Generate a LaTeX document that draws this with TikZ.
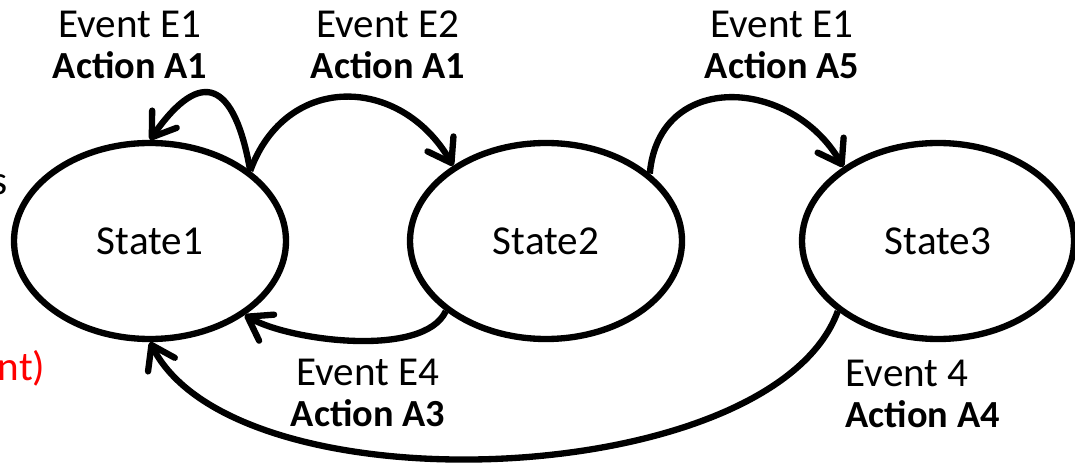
\documentclass[tikz,border=0pt]{standalone}
\usepackage{fontspec}
\setmainfont{Carlito}
\usetikzlibrary{arrows.meta,shapes.geometric}

% bold action lines run a little smaller than the event lines
\newcommand{\actiontext}[1]{{\fontsize{10.9}{11.8}\selectfont\textbf{#1}}}

\begin{document}
\begin{tikzpicture}
        [every node/.style={inner sep=0pt,font=\fontsize{11.7}{11.8}\selectfont},
        state-ellipse/.style={ellipse,draw=black,line width=1.8pt,minimum width=2.72cm,minimum height=1.96cm},
        label-text/.style={align=center},
        transition/.style={line width=1.8pt,-{Straight Barb[length=2.2mm,width=3mm,round]}}
        ]
        \useasboundingbox (0,0) rectangle (10.75,4.62);
        \node[state-ellipse] (state-1) at (1.50, 2.21) {State1};
        \node[state-ellipse] (state-2) at (5.46, 2.21) {State2};
        \node[state-ellipse] (state-3) at (9.38, 2.21) {State3};
        \node[label-text] (label-1) at (1.30, 4.17) {Event E1\\\actiontext{Action A1}};
        \node[label-text] (label-2) at (3.88, 4.17) {Event E2\\\actiontext{Action A1}};
        \node[label-text] (label-3) at (7.82, 4.17) {Event E1\\\actiontext{Action A5}};
        \node[label-text] (label-4) at (3.68, 0.69) {Event E4\\\actiontext{Action A3}};
        \node[align=left,anchor=west] (label-5) at (8.45, 0.68) {Event 4\\\actiontext{Action A4}};
        \node[anchor=base east] (cut-1) at (0.08, 2.67) {s};
        \node[anchor=base east,text=red] (cut-2) at (0.46, 0.82) {nt)};
        \draw[transition] (state-1.35) to[out=100, in=55, looseness=2.2] (state-1.90);
        \draw[transition] (state-1.35) to[out=70, in=120, looseness=1.32] (state-2.141);
        \draw[transition] (state-2.33) to[out=85, in=120, looseness=1.37] (state-3.142);
        \draw[transition] (state-2.215) to[out=245, in=330, looseness=0.66] (state-1.322);
        \draw[transition] (state-3.215) to[out=250, in=297, looseness=0.71] (state-1.270);
    \end{tikzpicture}
\end{document}
